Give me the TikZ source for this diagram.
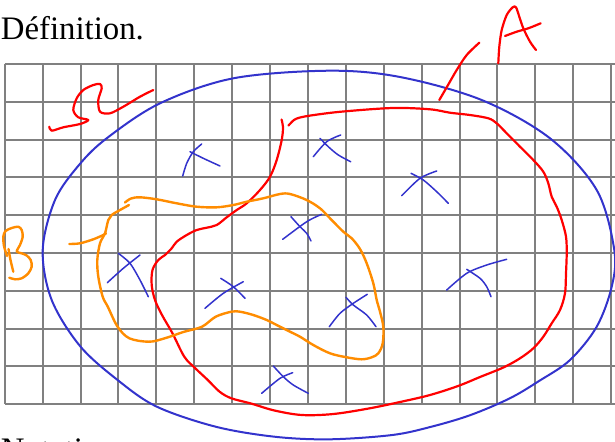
\documentclass[tikz,border=0pt]{standalone}
\usepackage{fontspec}
\setmainfont{Liberation Serif}
\usepackage{tikz}
\usetikzlibrary{positioning}
\usepackage{xcolor}
\definecolor{bleu}{RGB}{51,51,204}
\definecolor{rouge}{RGB}{255,0,0}
\definecolor{orangeB}{RGB}{255,140,0}
\definecolor{grisgrille}{RGB}{128,128,128}

\begin{document}
\begin{tikzpicture}[
        x=0.5pt, y=-0.5pt,
        texte/.style={inner sep=0pt, anchor=base west, font=\fontsize{16.4}{19}\selectfont},
        grille/.style={draw=grisgrille, line width=1pt},
        univers/.style={draw=bleu, line width=1pt},
        ensA/.style={draw=rouge, line width=1.1pt, line cap=round, line join=round},
        ensB/.style={draw=orangeB, line width=1.2pt, line cap=round, line join=round},
        croix/.style={draw=bleu, line width=0.75pt, line cap=round}
    ]
        \useasboundingbox (0,0) rectangle (615,441);
        \clip (0,0) rectangle (615,441);

        \node[texte] (titre) at (0.5,39.5) {Définition.};
        \node[texte] (notation) at (0.5,460) {Notation};

        % quadrillage
        \foreach \i in {0,...,16}
            \draw[grille] ({4.7+37.9*\i},64) -- ({4.7+37.9*\i},404.2);
        \foreach \j in {0,...,9}
            \draw[grille] (4.7,{64+37.8*\j}) -- (616,{64+37.8*\j});

        % univers
        \draw[univers] plot[smooth cycle, tension=0.55] coordinates {
            (329,70.7) (400,77) (481.7,100) (550,138.3) (596.7,190) (614.3,250)
            (611.7,286.7) (596.7,326.7) (570,360) (539,381) (509.8,398.3) (470.6,415)
            (431.4,426.7) (392.2,435) (329.4,439.3) (274.5,436.7) (215.7,426.7)
            (156.9,406.7) (117.6,380) (80,346) (51.7,300) (42.7,250) (55,200)
            (79,165) (106.7,138.3) (160,103.3) (233.3,78.3)};

        % ensemble A
        \draw[ensA] plot[smooth, tension=0.55] coordinates {
            (288.5,125.5) (294,120) (300,117.5) (314,115) (343,111.5) (393,108)
            (430,109.3) (450,112.7) (470,115) (488.3,118.3) (496.7,123.3)
            (506.7,133.3) (520,146.7) (533.3,160) (543.3,171.7) (548.3,183.3)
            (551.7,196.7) (556.7,206.7) (561.7,220) (566,236.7) (566.7,253.3)
            (566,273.3) (565,293.3) (560,310) (551.7,323.3) (543.3,336.7)
            (533.3,348.3) (520,358.3) (503.3,367.5) (480,377) (458,386) (430,395)
            (400,402) (368.6,408.5) (333.3,414) (302,415) (274.5,410.5) (251,403.5)
            (231.4,398.3) (219.6,391.7) (207.8,380) (195,368) (184.3,356.7)
            (172.5,333.3) (162,315) (155,300) (151.7,285) (152.5,270) (158.3,260)
            (165,255) (171.7,248.3) (176.7,241.7) (186.7,235) (196.7,230)
            (206.7,227.7) (216.7,225) (226.7,217.3) (236.7,210) (246.7,203.3)
            (260,190) (270,176.7) (276.7,160) (281.7,140) (283,127) (281.5,119.5)};
        \draw[ensA] plot[smooth] coordinates {(439.3,100) (446.7,87.3) (456.7,70) (466.7,55) (479.3,42.7)};
        \draw[ensA] plot[smooth] coordinates {(498.3,63.3) (499.3,46.7) (501.7,30) (506.7,15)
            (512.7,7.3) (516,7.3) (519.3,16.7) (523.3,28.3) (530,41.7) (536,50)};
        \draw[ensA] plot[smooth] coordinates {(505,36) (516.7,31.7) (528.3,28.3) (540.7,23.3)};
        \draw[ensA] plot[smooth, tension=0.5] coordinates {(153.3,90) (140,96.7) (123.3,106.7)
            (110,113.3) (100,111.7) (98.3,100) (101.7,88.3) (100,84) (93.3,85) (83.3,90)
            (76.7,98.3) (73.3,110) (78.3,117.3) (88.3,120) (80,124) (63.3,127.3)
            (51.7,130.7) (49.3,126.7)};

        % ensemble B
        \draw[ensB] plot[smooth, tension=0.55] coordinates {
            (125,202.5) (131,198.5) (140,197.3) (156.7,199.3) (176.7,203.3)
            (196.7,206.7) (216.7,207.3) (233.3,205) (246.7,201.7) (263.3,198.3)
            (280,194) (290,194) (306.7,200) (320,208.3) (330,218.3) (343.3,231.7)
            (351.7,238.3) (360,249) (366.7,263.3) (373.3,283.3) (376.7,300)
            (380,311.7) (383.3,326.7) (382.7,343.3) (378.3,353.3) (371.7,357.3)
            (361.7,359.3) (346.7,357.3) (330,353.3) (313.3,345) (300,336.7)
            (290,331.7) (276.7,325) (266.7,320) (253.3,315) (240,311.7) (231.4,311.7)
            (215.7,316.7) (202,326.7) (184.3,331.7) (164.7,338.3) (149,341.7)
            (129.4,338.3) (117.6,326.7) (107.8,306.7) (102.7,296.7) (98.3,276.7)
            (97.3,260) (100,243.3) (105,233.3) (108.3,220) (111.7,215) (120,210) (129,205)};
        \draw[ensB] plot[smooth] coordinates {(69.3,244) (80,243.3) (93.3,239.3) (103.3,235) (106,233.3)};
        \draw[ensB] plot[smooth] coordinates {(8.5,249) (10.5,260) (13.3,271.7)};
        \draw[ensB] plot[smooth, tension=0.5] coordinates {(7,256) (4,246) (3.3,236.7) (5.5,231)
            (11.7,228) (18.3,226.7) (21.7,230) (22.7,236.7) (20,245) (16.7,251.5)
            (21.7,253.3) (26.7,255.5) (30.7,260) (31.7,266.7) (28.3,273.3)
            (21.7,278.3) (15,279.3) (9.3,277.7)};

        % elements
        \draw[croix] plot[smooth] coordinates {(201.7,144) (193.3,151.7) (186.7,163.3) (182.7,176)};
        \draw[croix] plot[smooth] coordinates {(190,151.7) (203.3,158.3) (220,166)};
        \draw[croix] plot[smooth] coordinates {(340.7,135) (326.7,141.7) (313.3,156.7)};
        \draw[croix] plot[smooth] coordinates {(320,138.3) (328.3,146.7) (338.3,155) (350.7,161.7)};
        \draw[croix] plot[smooth] coordinates {(436.7,171) (420,178.3) (401.7,195.7)};
        \draw[croix] plot[smooth] coordinates {(411,173.3) (423.3,180) (436.7,191.7) (448.3,203.3)};
        \draw[croix] plot[smooth] coordinates {(321.7,214.3) (306.7,221.7) (282.7,239.3)};
        \draw[croix] plot[smooth] coordinates {(291,216.7) (300,226.7) (306.7,233.3) (311,241)};
        \draw[croix] plot[smooth] coordinates {(140,255) (123.3,268.3) (107.3,282.7)};
        \draw[croix] plot[smooth] coordinates {(118.3,253.3) (130,263.3) (140,280) (148.3,296.7)};
        \draw[croix] plot[smooth] coordinates {(243.3,281.7) (223.3,293.3) (205,308.3)};
        \draw[croix] plot[smooth] coordinates {(220.7,278.3) (233.3,286.7) (245,298.3)};
        \draw[croix] plot[smooth] coordinates {(367.3,294.3) (353.3,303.3) (340,313.3) (329.3,326.7)};
        \draw[croix] plot[smooth] coordinates {(346,297.3) (353.3,305) (366.7,315) (376,326.7)};
        \draw[croix] plot[smooth] coordinates {(506.7,259.3) (486.7,265) (466.7,273.3) (446.7,290)};
        \draw[croix] plot[smooth] coordinates {(466.7,269.3) (480,278.3) (486.7,286.7) (491,296.7)};
        \draw[croix] plot[smooth] coordinates {(292.7,372.7) (280,378.3) (261.7,393.3)};
        \draw[croix] plot[smooth] coordinates {(273.3,366) (283.3,376.7) (293.3,385) (308.3,393.3)};
    \end{tikzpicture}
\end{document}
